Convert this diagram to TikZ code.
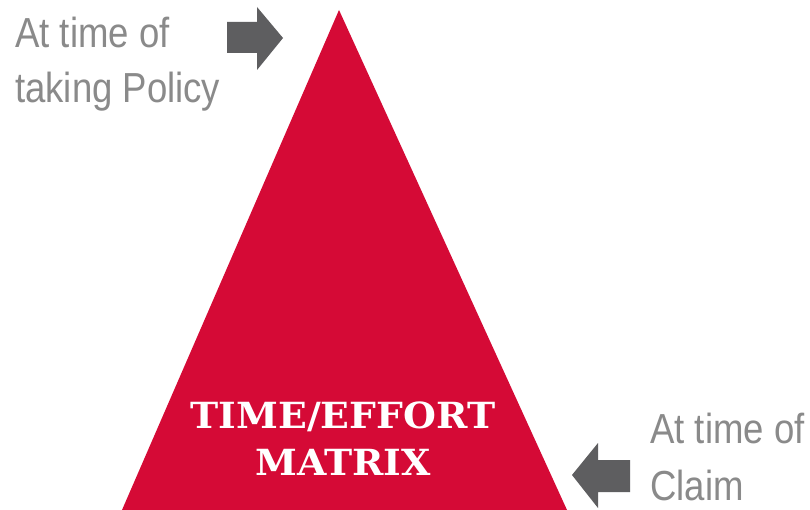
\documentclass[tikz,border=0pt]{standalone}
\usepackage{fontspec}
\setmainfont{DejaVu Serif}[FakeStretch=1.05]
\newfontfamily\lightfont{Liberation Sans}[FakeStretch=0.87]
\definecolor{matrixred}{HTML}{D50A36}
\definecolor{arrowgray}{HTML}{5E5E60}
\definecolor{labelgray}{HTML}{8A8A8A}
\tikzset{
mred/.style={fill=matrixred,draw=none},
blockarrow/.style={fill=arrowgray,draw=none},
sidelabel/.style={font=\lightfont\fontsize{42}{55}\selectfont,text=labelgray,inner sep=0pt,anchor=base west},
titlelabel/.style={font=\bfseries\fontsize{36}{47}\selectfont,text=white,inner sep=0pt,anchor=base},
}

\begin{document}
\begin{tikzpicture}[x=1pt,y=-1pt]
        \useasboundingbox[fill=white] (0,0) rectangle (810,510);
        % the matrix
        \fill[mred] (339,10) -- (567,510) -- (122,510) -- cycle;
        \node[titlelabel] (title1) at (343,428) {TIME/EFFORT};
        \node[titlelabel] (title2) at (343,475) {MATRIX};

        % policy side
        \fill[blockarrow] (227,22) -- (257,22) -- (257,7) -- (283,38)
            -- (257,70) -- (257,53) -- (227,53) -- cycle;
        \node[sidelabel] (policy1) at (15,48) {At time of};
        \node[sidelabel] (policy2) at (15,103) {taking Policy};

        % claim side
        \fill[blockarrow] (630,460) -- (598,460) -- (598,443) -- (572,475)
            -- (598,508) -- (598,492) -- (630,492) -- cycle;
        \node[sidelabel] (claim1) at (650,443) {At time of};
        \node[sidelabel] (claim2) at (650,500) {Claim};
\end{tikzpicture}
\end{document}
